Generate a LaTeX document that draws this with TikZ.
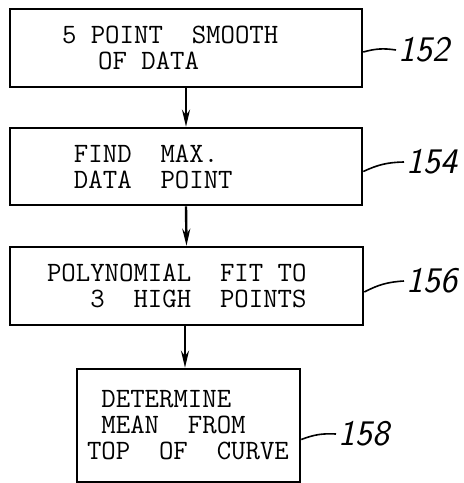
\documentclass[tikz,border=0pt]{standalone}
\usepackage{tikz}
\usetikzlibrary{arrows.meta}
\newcommand{\blank}{\hphantom{0}}
\tikzstyle{stage} = [draw, line width=2.6pt, inner ysep=0pt, align=left,
  font=\ttfamily\fontsize{28}{26}\selectfont]
\tikzstyle{arrow} = [line width=2.4pt, -{Stealth[length=17pt,width=8pt]}]
\tikzstyle{ref} = [inner sep=2pt, anchor=west,
  font=\sffamily\itshape\fontsize{36}{36}\selectfont]
\tikzstyle{leader} = [line width=1.6pt]

\begin{document}
\begin{tikzpicture}[x=1pt,y=-1pt]
    \useasboundingbox (0,0) rectangle (464,483);
    \node[stage,minimum width=352pt,minimum height=78pt,text width=248pt,
        inner xsep=52pt] (smooth) at (186,48)
        {5\blank POINT\blank\blank SMOOTH\\\hspace*{1.29em}OF\blank DATA};
    \node[stage,minimum width=352pt,minimum height=77pt,text width=224pt,
        inner xsep=64pt] (findmax) at (186,166.5)
        {FIND\blank\blank MAX.\\DATA\blank\blank POINT};
    \node[stage,minimum width=353pt,minimum height=78pt,text width=279pt,
        inner xsep=37pt] (polyfit) at (186.5,286)
        {POLYNOMIAL\blank\blank FIT\blank TO\\\blank\blank\blank 3\blank\blank HIGH\blank\blank POINTS};
    \node[stage,minimum width=223pt,minimum height=113pt,text width=203pt,
        inner xsep=10pt] (mean) at (188.5,425.5)
        {\blank DETERMINE\\\blank MEAN\blank\blank FROM\\TOP\blank\blank OF\blank\blank CURVE};
    \draw[arrow] (smooth.south) -- (findmax.north);
    \draw[arrow] (findmax.south) -- (polyfit.north);
    \draw[arrow] ([xshift=-1.5pt]polyfit.south) -- ([xshift=-1.5pt]polyfit.south |- mean.north);
    % reference numerals
    \node[ref] (r152) at (396,50) {152};
    \node[ref] (r154) at (404,162) {154};
    \node[ref] (r156) at (404,281) {156};
    \node[ref] (r158) at (336,434) {158};
    \draw[leader] ([yshift=-4pt]smooth.east) to[bend left=12] (r152.west);
    \draw[leader] ([yshift=-5pt]findmax.east) to[bend left=12] (r154.west);
    \draw[leader] ([yshift=-6pt]polyfit.east) to[bend left=12] (r156.west);
    \draw[leader] ([yshift=-14pt]mean.east) to[bend left=12] (r158.west);
\end{tikzpicture}
\end{document}
